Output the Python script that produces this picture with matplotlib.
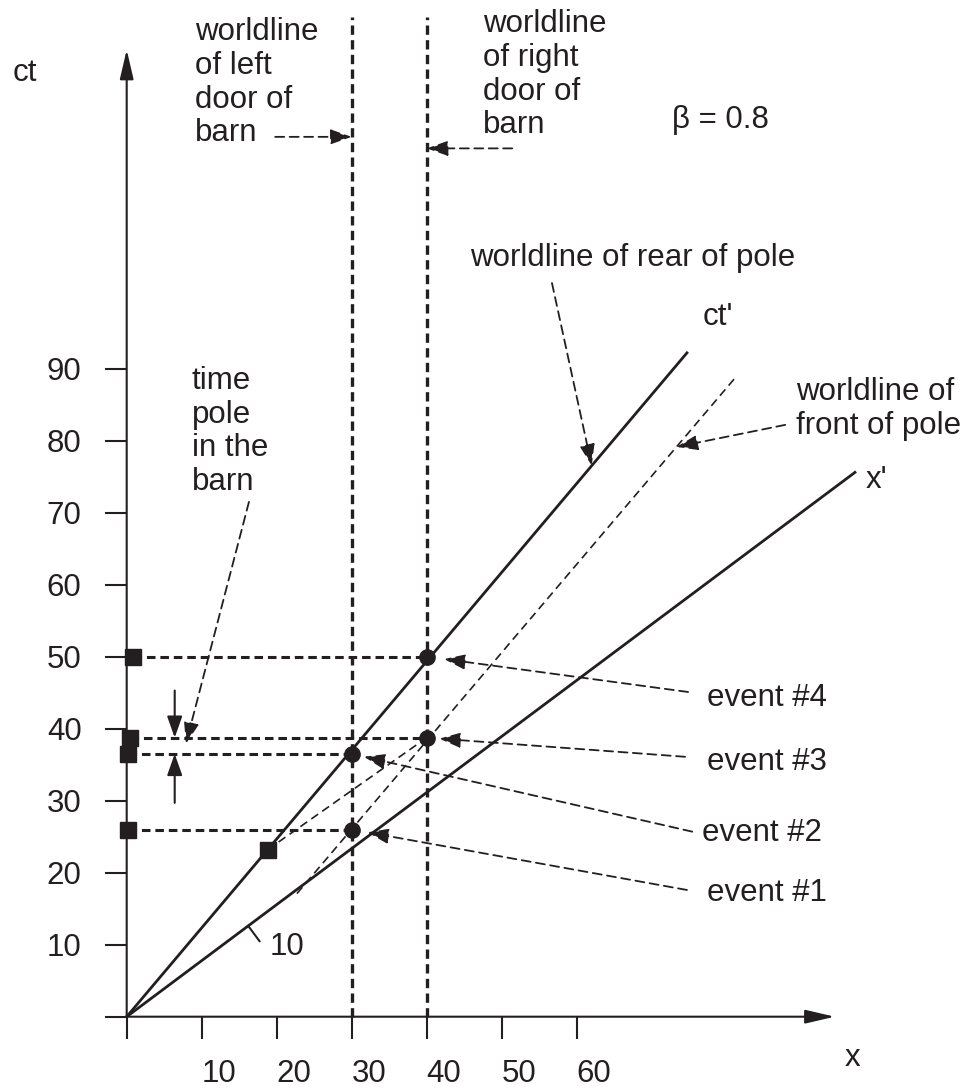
import matplotlib
matplotlib.use("Agg")
import matplotlib.pyplot as plt

plt.rcParams['font.family'] = ['Liberation Sans', 'DejaVu Sans']

INK = '#231f20'
FS = 22.5

# axis ticks
x_ticks = [0, 10, 20, 30, 40, 50, 60]
x_labels = ['', '10', '20', '30', '40', '50', '60']
y_ticks = [0, 10, 20, 30, 40, 50, 60, 70, 80, 90]
y_labels = ['', '10', '20', '30', '40', '50', '60', '70', '80', '90']

# worldlines (x, ct)
door_x = [30, 40]
rear_x = [0, 74.7]          # ct' axis = worldline of rear of pole
rear_ct = [0, 92.2]
xp_x = [0, 97.1]            # x' axis
xp_ct = [0, 75.6]
front_x = [22.7, 81.1]      # worldline of front of pole
front_ct = [17.1, 88.7]

# events
event_names = ['event #1', 'event #2', 'event #3', 'event #4']
event_x = [30, 30, 40, 40]
event_ct = [26.0, 36.5, 38.75, 50.0]
proj_x = [0.2, 0.2, 0.4, 0.8]   # squares on the ct axis

# point on ct' simultaneous (in S') with event #3
sq_x = 18.8
sq_ct = 23.2

xp_tick = 16.2   # x position of the "10" mark on the x' axis

# ---- figure: 7.5 px per x unit, 7.2 px per ct unit, origin at (126.7, 1016.7) px
fig = plt.figure(figsize=(9.7, 10.89), dpi=100)
ax = fig.add_axes([0, 0, 1, 1])
ox, oy, sx, sy = 126.7, 1016.7, 7.5, 7.2
ax.set_xlim(-ox / sx, (970 - ox) / sx)
ax.set_ylim((oy - 1089) / sy, oy / sy)

for s in ['top', 'right']:
    ax.spines[s].set_visible(False)
for s in ['left', 'bottom']:
    ax.spines[s].set_position(('data', 0))
    ax.spines[s].set_visible(False)

ax.set_xticks(x_ticks, x_labels)
ax.set_yticks(y_ticks, y_labels)
ax.tick_params(direction='out', length=15.5, width=1.5, color=INK,
               labelsize=FS, labelcolor=INK)
ax.tick_params(axis='x', pad=15)
ax.tick_params(axis='y', pad=17)
for lab in ax.get_xticklabels():
    lab.set_horizontalalignment('left')

axis_arrow = dict(arrowstyle='-|>,head_length=1.8,head_width=0.42', lw=1.5,
                  color=INK, shrinkA=0, shrinkB=0, mutation_scale=10)
ax.annotate('', xy=(0, 134.3), xytext=(0, 0), arrowprops=axis_arrow)
ax.annotate('', xy=(94.4, 0), xytext=(0, 0), arrowprops=axis_arrow)
ax.text(-13.6, 131.1, 'ct', fontsize=FS, ha='center', va='center', color=INK)
ax.text(96.8, -5.7, 'x', fontsize=FS, ha='center', va='center', color=INK)

thick_dash = (0, (2.8, 1.6))
thin_dash = (0, (5, 3))

# barn doors
for dx in door_x:
    ax.plot([dx, dx], [0, 138.8], color=INK, lw=2.4, ls=thick_dash)

# moving frame axes / pole worldlines
ax.plot(rear_x, rear_ct, color=INK, lw=2)
ax.plot(xp_x, xp_ct, color=INK, lw=2)
ax.plot(front_x, front_ct, color=INK, lw=1.2, ls=thin_dash)
ax.plot([sq_x, event_x[2]], [sq_ct, event_ct[2]], color=INK, lw=1.2, ls=thin_dash)

# projections of events onto ct
for px, ex, ect in zip(proj_x, event_x, event_ct):
    ax.plot([px, ex], [ect, ect], color=INK, lw=2.2, ls=thick_dash)

ax.plot(event_x, event_ct, 'o', ms=11, color=INK, zorder=5)
ax.plot(proj_x, event_ct, 's', ms=11.5, color=INK, zorder=5)
ax.plot([sq_x], [sq_ct], 's', ms=11.5, color=INK, zorder=5)

# mark 10 on the x' axis
slope_xp = xp_ct[1] / xp_x[1]
ax.annotate('', xy=(xp_tick, xp_tick * slope_xp), xytext=(11.5, -15.5),
            textcoords='offset pixels',
            arrowprops=dict(arrowstyle='-', lw=1.5, color=INK, shrinkA=0, shrinkB=0))
ax.annotate('10', xy=(xp_tick, xp_tick * slope_xp), xytext=(39, -21),
            textcoords='offset pixels', fontsize=FS, ha='center', va='center',
            color=INK)

head = '-|>,head_length=1.3,head_width=0.46'


def dashed_arrow(tip, start, shrink=0):
    ax.annotate('', xy=tip, xytext=start,
                arrowprops=dict(arrowstyle=head, lw=1.3, ls=thin_dash, color=INK,
                                shrinkA=0, shrinkB=shrink, mutation_scale=10))


def solid_arrow(tip, start):
    ax.annotate('', xy=tip, xytext=start,
                arrowprops=dict(arrowstyle=head, lw=1.5, color=INK, shrinkA=0,
                                shrinkB=0, mutation_scale=10))


txt = dict(fontsize=FS, color=INK, linespacing=1.16)

# door labels
ax.text(9.1, 129.7, 'worldline\nof left\ndoor of\nbarn', ha='left', va='center', **txt)
dashed_arrow((door_x[0], 122.2), (19.8, 122.2))
ax.text(47.5, 130.8, 'worldline\nof right\ndoor of\nbarn', ha='left', va='center', **txt)
dashed_arrow((door_x[1], 120.6), (51.4, 120.6))

ax.text(72.7, 124.5, 'β = 0.8', ha='left', va='center', **txt)

# rear / front of pole labels
slope_rear = rear_ct[1] / rear_x[1]
ax.text(67.4, 105.4, 'worldline of rear of pole', ha='center', va='center', **txt)
dashed_arrow((62, 62 * slope_rear), (56.7, 101.9))
ax.text(78.8, 97.2, "ct'", ha='center', va='center', **txt)

slope_front = (front_ct[1] - front_ct[0]) / (front_x[1] - front_x[0])
ax.text(89.2, 84.4, 'worldline of\nfront of pole', ha='left', va='center', **txt)
tip_x = 73.3
dashed_arrow((tip_x, front_ct[0] + (tip_x - front_x[0]) * slope_front), (87.8, 82.2))
ax.text(100, 74.5, "x'", ha='center', va='center', **txt)

# time pole in the barn
ax.text(8.7, 81.3, 'time\npole\nin the\nbarn', ha='left', va='center', **txt)
dashed_arrow((7.9, (event_ct[1] + event_ct[2]) / 2 + 0.3), (16.3, 71.5))
solid_arrow((6.4, event_ct[2]), (6.4, 45.3))
solid_arrow((6.4, event_ct[1]), (6.4, 29.7))

# event labels
label_pos = [(77.4, 17.2), (76.7, 25.5), (77.4, 35.4), (77.4, 44.2)]
arrow_start = [(74.7, 17.6), (75.4, 25.7), (74.45, 36.1), (74.85, 45.1)]
arrow_shrink = [11.5, 9, 9, 12.5]
for name, ex, ect, lp, st, sh in zip(event_names, event_x, event_ct,
                                      label_pos, arrow_start, arrow_shrink):
    ax.text(lp[0], lp[1], name, ha='left', va='center', **txt)
    dashed_arrow((ex, ect), st, shrink=sh)

fig.savefig('out.png', dpi=100)
